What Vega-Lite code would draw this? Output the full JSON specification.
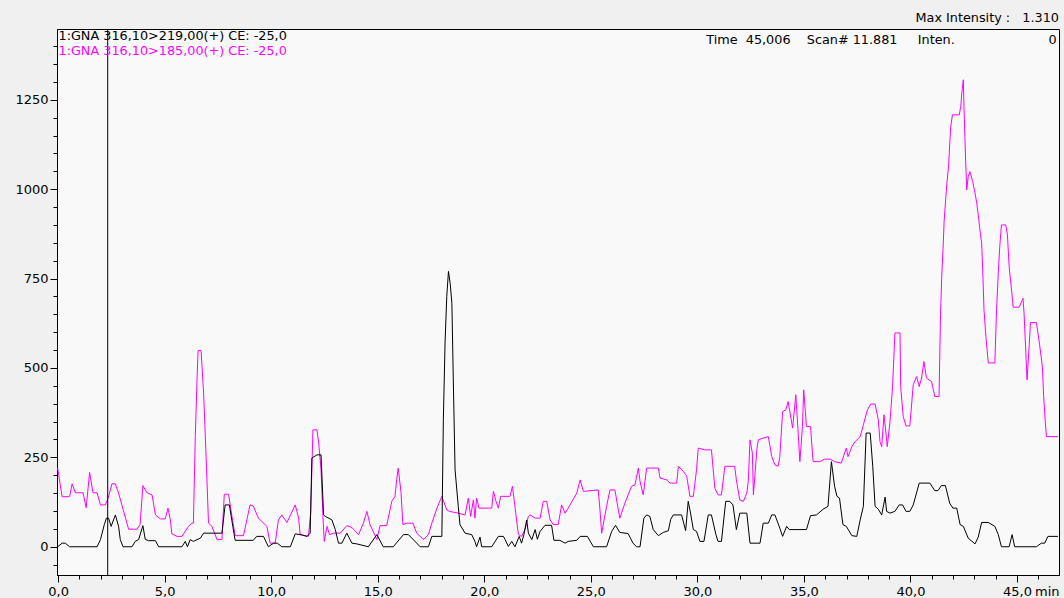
{
  "$schema": "https://vega.github.io/schema/vega-lite/v6.json",
  "width": 1002,
  "height": 546,
  "autosize": {"type": "none"},
  "padding": {"left": 57, "top": 29, "right": 5, "bottom": 23},
  "background": "#f0f0f0",
  "datasets": {
    "m185": [
      {"t": -0.02, "v": 220}, {"t": 0.19, "v": 140}, {"t": 0.54, "v": 140}, {"t": 0.66, "v": 176}, {"t": 0.81, "v": 151},
      {"t": 1.17, "v": 151}, {"t": 1.32, "v": 109}, {"t": 1.48, "v": 208}, {"t": 1.64, "v": 151}, {"t": 1.83, "v": 151},
      {"t": 1.99, "v": 117}, {"t": 2.22, "v": 117}, {"t": 2.35, "v": 136}, {"t": 2.53, "v": 176}, {"t": 2.69, "v": 176},
      {"t": 2.84, "v": 150}, {"t": 3.31, "v": 49}, {"t": 3.70, "v": 49}, {"t": 3.85, "v": 62}, {"t": 3.98, "v": 171},
      {"t": 4.17, "v": 151}, {"t": 4.41, "v": 145}, {"t": 4.57, "v": 89}, {"t": 4.80, "v": 78}, {"t": 5.03, "v": 78},
      {"t": 5.16, "v": 108}, {"t": 5.27, "v": 75}, {"t": 5.34, "v": 36}, {"t": 5.58, "v": 29}, {"t": 5.81, "v": 29},
      {"t": 6.12, "v": 57}, {"t": 6.28, "v": 66}, {"t": 6.35, "v": 66}, {"t": 6.44, "v": 308}, {"t": 6.52, "v": 467},
      {"t": 6.57, "v": 549}, {"t": 6.71, "v": 549}, {"t": 6.83, "v": 430}, {"t": 6.94, "v": 262}, {"t": 7.06, "v": 66},
      {"t": 7.22, "v": 57}, {"t": 7.46, "v": 20}, {"t": 7.69, "v": 20}, {"t": 7.80, "v": 147}, {"t": 8.00, "v": 147},
      {"t": 8.16, "v": 85}, {"t": 8.31, "v": 31}, {"t": 8.70, "v": 31}, {"t": 9.01, "v": 117}, {"t": 9.16, "v": 114},
      {"t": 9.40, "v": 80}, {"t": 9.80, "v": 57}, {"t": 9.95, "v": 10}, {"t": 10.19, "v": 10}, {"t": 10.34, "v": 75},
      {"t": 10.50, "v": 89}, {"t": 10.74, "v": 68}, {"t": 11.13, "v": 117}, {"t": 11.29, "v": 80}, {"t": 11.36, "v": 34},
      {"t": 11.75, "v": 29}, {"t": 11.86, "v": 99}, {"t": 11.96, "v": 327}, {"t": 12.15, "v": 327}, {"t": 12.23, "v": 290},
      {"t": 12.34, "v": 215}, {"t": 12.43, "v": 85}, {"t": 12.49, "v": 15}, {"t": 12.62, "v": 57}, {"t": 12.74, "v": 34},
      {"t": 12.93, "v": 38}, {"t": 13.24, "v": 38}, {"t": 13.55, "v": 59}, {"t": 13.79, "v": 54}, {"t": 14.10, "v": 34},
      {"t": 14.33, "v": 66}, {"t": 14.49, "v": 99}, {"t": 14.64, "v": 62}, {"t": 14.96, "v": 20}, {"t": 15.11, "v": 59},
      {"t": 15.42, "v": 59}, {"t": 15.66, "v": 127}, {"t": 15.81, "v": 141}, {"t": 15.89, "v": 187}, {"t": 15.96, "v": 220},
      {"t": 16.09, "v": 155}, {"t": 16.18, "v": 62}, {"t": 16.37, "v": 66}, {"t": 16.65, "v": 66}, {"t": 16.83, "v": 38},
      {"t": 17.15, "v": 20}, {"t": 17.38, "v": 34}, {"t": 17.54, "v": 66}, {"t": 17.78, "v": 108}, {"t": 18.01, "v": 141},
      {"t": 18.24, "v": 103}, {"t": 18.36, "v": 99}, {"t": 18.78, "v": 94}, {"t": 19.10, "v": 89}, {"t": 19.25, "v": 136},
      {"t": 19.36, "v": 85}, {"t": 19.49, "v": 131}, {"t": 19.56, "v": 80}, {"t": 19.64, "v": 136}, {"t": 19.75, "v": 108},
      {"t": 20.35, "v": 108}, {"t": 20.43, "v": 155}, {"t": 20.55, "v": 127}, {"t": 20.66, "v": 108}, {"t": 20.77, "v": 141},
      {"t": 21.21, "v": 141}, {"t": 21.32, "v": 169}, {"t": 21.44, "v": 113}, {"t": 21.60, "v": 34}, {"t": 21.75, "v": 29},
      {"t": 21.91, "v": 48}, {"t": 22.07, "v": 85}, {"t": 22.15, "v": 89}, {"t": 22.39, "v": 80}, {"t": 22.62, "v": 80},
      {"t": 22.77, "v": 127}, {"t": 22.93, "v": 127}, {"t": 23.09, "v": 75}, {"t": 23.24, "v": 62}, {"t": 23.47, "v": 62},
      {"t": 23.63, "v": 117}, {"t": 23.79, "v": 94}, {"t": 23.94, "v": 108}, {"t": 24.34, "v": 150}, {"t": 24.50, "v": 187},
      {"t": 24.65, "v": 155}, {"t": 25.35, "v": 159}, {"t": 25.43, "v": 103}, {"t": 25.51, "v": 38}, {"t": 25.74, "v": 113},
      {"t": 25.90, "v": 159}, {"t": 26.13, "v": 159}, {"t": 26.36, "v": 80}, {"t": 26.60, "v": 122}, {"t": 26.91, "v": 169},
      {"t": 27.07, "v": 173}, {"t": 27.23, "v": 220}, {"t": 27.31, "v": 183}, {"t": 27.46, "v": 145}, {"t": 27.62, "v": 220},
      {"t": 28.17, "v": 220}, {"t": 28.25, "v": 192}, {"t": 28.56, "v": 187}, {"t": 28.72, "v": 178}, {"t": 29.03, "v": 178},
      {"t": 29.11, "v": 225}, {"t": 29.34, "v": 211}, {"t": 29.50, "v": 197}, {"t": 29.65, "v": 141}, {"t": 29.81, "v": 141},
      {"t": 29.96, "v": 215}, {"t": 30.04, "v": 276}, {"t": 30.35, "v": 271}, {"t": 30.66, "v": 271}, {"t": 30.82, "v": 164},
      {"t": 30.97, "v": 145}, {"t": 31.13, "v": 145}, {"t": 31.29, "v": 225}, {"t": 31.75, "v": 225}, {"t": 31.83, "v": 187},
      {"t": 31.99, "v": 131}, {"t": 32.16, "v": 127}, {"t": 32.32, "v": 150}, {"t": 32.39, "v": 183}, {"t": 32.47, "v": 299},
      {"t": 32.58, "v": 262}, {"t": 32.63, "v": 145}, {"t": 32.79, "v": 271}, {"t": 32.86, "v": 299}, {"t": 33.09, "v": 304},
      {"t": 33.33, "v": 308}, {"t": 33.49, "v": 252}, {"t": 33.64, "v": 229}, {"t": 33.79, "v": 225}, {"t": 33.87, "v": 252},
      {"t": 34.00, "v": 378}, {"t": 34.15, "v": 383}, {"t": 34.26, "v": 406}, {"t": 34.47, "v": 332}, {"t": 34.62, "v": 425},
      {"t": 34.73, "v": 318}, {"t": 34.81, "v": 238}, {"t": 34.93, "v": 336}, {"t": 34.99, "v": 439}, {"t": 35.12, "v": 336},
      {"t": 35.31, "v": 336}, {"t": 35.43, "v": 238}, {"t": 35.74, "v": 238}, {"t": 35.97, "v": 245}, {"t": 36.24, "v": 245},
      {"t": 36.44, "v": 238}, {"t": 36.75, "v": 234}, {"t": 36.99, "v": 276}, {"t": 37.07, "v": 252}, {"t": 37.25, "v": 280},
      {"t": 37.40, "v": 294}, {"t": 37.64, "v": 308}, {"t": 37.79, "v": 341}, {"t": 37.98, "v": 383}, {"t": 38.14, "v": 399},
      {"t": 38.34, "v": 399}, {"t": 38.49, "v": 355}, {"t": 38.57, "v": 294}, {"t": 38.65, "v": 280}, {"t": 38.76, "v": 369},
      {"t": 38.85, "v": 318}, {"t": 38.91, "v": 280}, {"t": 39.04, "v": 350}, {"t": 39.16, "v": 448}, {"t": 39.27, "v": 598},
      {"t": 39.51, "v": 598}, {"t": 39.54, "v": 448}, {"t": 39.66, "v": 364}, {"t": 39.79, "v": 338}, {"t": 39.97, "v": 338},
      {"t": 40.13, "v": 453}, {"t": 40.29, "v": 476}, {"t": 40.41, "v": 448}, {"t": 40.52, "v": 472}, {"t": 40.63, "v": 518},
      {"t": 40.75, "v": 472}, {"t": 40.99, "v": 462}, {"t": 41.14, "v": 420}, {"t": 41.34, "v": 420}, {"t": 41.41, "v": 649},
      {"t": 41.47, "v": 760}, {"t": 41.53, "v": 835}, {"t": 41.58, "v": 910}, {"t": 41.65, "v": 970}, {"t": 41.71, "v": 1017},
      {"t": 41.79, "v": 1065}, {"t": 41.84, "v": 1124}, {"t": 41.89, "v": 1175}, {"t": 41.97, "v": 1208}, {"t": 42.29, "v": 1208},
      {"t": 42.36, "v": 1231}, {"t": 42.41, "v": 1269}, {"t": 42.48, "v": 1306}, {"t": 42.51, "v": 1231}, {"t": 42.59, "v": 1077},
      {"t": 42.64, "v": 998}, {"t": 42.71, "v": 1035}, {"t": 42.79, "v": 1049}, {"t": 42.92, "v": 1021}, {"t": 43.03, "v": 989},
      {"t": 43.11, "v": 961}, {"t": 43.18, "v": 928}, {"t": 43.26, "v": 886}, {"t": 43.34, "v": 849}, {"t": 43.39, "v": 774},
      {"t": 43.45, "v": 663}, {"t": 43.54, "v": 588}, {"t": 43.65, "v": 514}, {"t": 43.96, "v": 514}, {"t": 44.04, "v": 663},
      {"t": 44.12, "v": 765}, {"t": 44.19, "v": 840}, {"t": 44.27, "v": 900}, {"t": 44.47, "v": 900}, {"t": 44.55, "v": 872},
      {"t": 44.63, "v": 784}, {"t": 44.71, "v": 737}, {"t": 44.79, "v": 691}, {"t": 44.82, "v": 670}, {"t": 45.10, "v": 670},
      {"t": 45.28, "v": 695}, {"t": 45.33, "v": 653}, {"t": 45.47, "v": 467}, {"t": 45.56, "v": 551}, {"t": 45.63, "v": 627},
      {"t": 45.91, "v": 627}, {"t": 46.06, "v": 565}, {"t": 46.19, "v": 504}, {"t": 46.25, "v": 420}, {"t": 46.33, "v": 346},
      {"t": 46.38, "v": 308}, {"t": 46.92, "v": 308}
    ],
    "m219": [
      {"t": -0.02, "v": 0}, {"t": 0.19, "v": 10}, {"t": 0.34, "v": 10}, {"t": 0.54, "v": 0}, {"t": 1.83, "v": 0},
      {"t": 1.99, "v": 20}, {"t": 2.17, "v": 62}, {"t": 2.27, "v": 80}, {"t": 2.37, "v": 80}, {"t": 2.49, "v": 57},
      {"t": 2.69, "v": 89}, {"t": 2.84, "v": 57}, {"t": 2.92, "v": 20}, {"t": 3.05, "v": 0}, {"t": 3.47, "v": 0},
      {"t": 3.62, "v": 15}, {"t": 3.78, "v": 20}, {"t": 3.98, "v": 59}, {"t": 4.09, "v": 21}, {"t": 4.24, "v": 17},
      {"t": 4.57, "v": 17}, {"t": 4.72, "v": 0}, {"t": 5.81, "v": 0}, {"t": 5.97, "v": 15}, {"t": 6.07, "v": 0},
      {"t": 6.20, "v": 20}, {"t": 6.35, "v": 15}, {"t": 6.52, "v": 20}, {"t": 6.68, "v": 24}, {"t": 6.83, "v": 38},
      {"t": 7.69, "v": 38}, {"t": 7.84, "v": 117}, {"t": 8.04, "v": 117}, {"t": 8.20, "v": 57}, {"t": 8.31, "v": 18},
      {"t": 9.16, "v": 18}, {"t": 9.32, "v": 29}, {"t": 9.64, "v": 29}, {"t": 9.87, "v": 0}, {"t": 10.11, "v": 10},
      {"t": 10.29, "v": 10}, {"t": 10.50, "v": 0}, {"t": 10.90, "v": 0}, {"t": 11.13, "v": 36}, {"t": 11.44, "v": 33},
      {"t": 11.68, "v": 29}, {"t": 11.83, "v": 38}, {"t": 11.91, "v": 248}, {"t": 12.15, "v": 257}, {"t": 12.34, "v": 257},
      {"t": 12.46, "v": 89}, {"t": 12.54, "v": 85}, {"t": 12.85, "v": 75}, {"t": 13.01, "v": 48}, {"t": 13.16, "v": 10},
      {"t": 13.32, "v": 10}, {"t": 13.55, "v": 38}, {"t": 13.79, "v": 10}, {"t": 14.02, "v": 8}, {"t": 14.56, "v": 0},
      {"t": 14.96, "v": 34}, {"t": 15.26, "v": 0}, {"t": 15.73, "v": 0}, {"t": 16.21, "v": 34}, {"t": 16.44, "v": 34},
      {"t": 16.83, "v": 10}, {"t": 16.99, "v": 0}, {"t": 17.38, "v": 0}, {"t": 17.54, "v": 29}, {"t": 18.01, "v": 29},
      {"t": 18.08, "v": 355}, {"t": 18.16, "v": 570}, {"t": 18.24, "v": 700}, {"t": 18.32, "v": 770}, {"t": 18.40, "v": 737},
      {"t": 18.48, "v": 681}, {"t": 18.55, "v": 458}, {"t": 18.63, "v": 215}, {"t": 18.78, "v": 113}, {"t": 18.86, "v": 62},
      {"t": 19.10, "v": 38}, {"t": 19.41, "v": 34}, {"t": 19.56, "v": 15}, {"t": 19.64, "v": 0}, {"t": 19.80, "v": 27},
      {"t": 19.88, "v": 0}, {"t": 20.35, "v": 0}, {"t": 20.66, "v": 29}, {"t": 20.90, "v": 29}, {"t": 20.98, "v": 20},
      {"t": 21.13, "v": 1}, {"t": 21.29, "v": 15}, {"t": 21.44, "v": 0}, {"t": 21.64, "v": 29}, {"t": 21.75, "v": 10},
      {"t": 21.86, "v": 34}, {"t": 21.99, "v": 75}, {"t": 22.07, "v": 38}, {"t": 22.23, "v": 20}, {"t": 22.39, "v": 48},
      {"t": 22.49, "v": 21}, {"t": 22.62, "v": 43}, {"t": 22.85, "v": 60}, {"t": 23.16, "v": 60}, {"t": 23.27, "v": 18},
      {"t": 23.55, "v": 18}, {"t": 23.79, "v": 10}, {"t": 23.94, "v": 15}, {"t": 24.34, "v": 18}, {"t": 24.50, "v": 29},
      {"t": 24.84, "v": 29}, {"t": 25.12, "v": 0}, {"t": 25.74, "v": 0}, {"t": 25.98, "v": 43}, {"t": 26.16, "v": 60},
      {"t": 26.36, "v": 40}, {"t": 26.75, "v": 37}, {"t": 26.98, "v": 10}, {"t": 27.15, "v": 0}, {"t": 27.31, "v": 0},
      {"t": 27.49, "v": 80}, {"t": 27.62, "v": 89}, {"t": 27.77, "v": 85}, {"t": 27.93, "v": 48}, {"t": 28.17, "v": 31},
      {"t": 28.40, "v": 40}, {"t": 28.64, "v": 45}, {"t": 28.75, "v": 77}, {"t": 28.87, "v": 89}, {"t": 29.26, "v": 89},
      {"t": 29.45, "v": 45}, {"t": 29.57, "v": 127}, {"t": 29.68, "v": 94}, {"t": 29.81, "v": 48}, {"t": 29.96, "v": 43},
      {"t": 30.12, "v": 15}, {"t": 30.31, "v": 15}, {"t": 30.51, "v": 89}, {"t": 30.66, "v": 89}, {"t": 30.87, "v": 34},
      {"t": 30.97, "v": 15}, {"t": 31.13, "v": 15}, {"t": 31.33, "v": 127}, {"t": 31.52, "v": 127}, {"t": 31.67, "v": 117},
      {"t": 31.83, "v": 48}, {"t": 31.99, "v": 94}, {"t": 32.32, "v": 94}, {"t": 32.47, "v": 10}, {"t": 32.94, "v": 10},
      {"t": 33.09, "v": 66}, {"t": 33.33, "v": 66}, {"t": 33.49, "v": 89}, {"t": 33.64, "v": 89}, {"t": 33.87, "v": 52},
      {"t": 34.00, "v": 29}, {"t": 34.19, "v": 57}, {"t": 34.31, "v": 48}, {"t": 35.12, "v": 48}, {"t": 35.31, "v": 87},
      {"t": 35.59, "v": 89}, {"t": 35.90, "v": 105}, {"t": 36.13, "v": 113}, {"t": 36.29, "v": 238}, {"t": 36.44, "v": 169},
      {"t": 36.55, "v": 141}, {"t": 36.67, "v": 136}, {"t": 36.83, "v": 62}, {"t": 36.99, "v": 57}, {"t": 37.25, "v": 31},
      {"t": 37.48, "v": 29}, {"t": 37.64, "v": 75}, {"t": 37.79, "v": 113}, {"t": 37.92, "v": 318}, {"t": 38.11, "v": 318},
      {"t": 38.23, "v": 225}, {"t": 38.34, "v": 113}, {"t": 38.49, "v": 105}, {"t": 38.65, "v": 89}, {"t": 38.81, "v": 139},
      {"t": 38.88, "v": 99}, {"t": 39.04, "v": 94}, {"t": 39.27, "v": 99}, {"t": 39.47, "v": 117}, {"t": 39.63, "v": 117},
      {"t": 39.79, "v": 99}, {"t": 39.97, "v": 99}, {"t": 40.13, "v": 117}, {"t": 40.41, "v": 178}, {"t": 40.91, "v": 178},
      {"t": 41.14, "v": 157}, {"t": 41.29, "v": 157}, {"t": 41.45, "v": 171}, {"t": 41.64, "v": 171}, {"t": 41.84, "v": 122},
      {"t": 41.99, "v": 108}, {"t": 42.17, "v": 108}, {"t": 42.33, "v": 62}, {"t": 42.48, "v": 57}, {"t": 42.71, "v": 24},
      {"t": 43.03, "v": 8}, {"t": 43.18, "v": 27}, {"t": 43.34, "v": 68}, {"t": 43.65, "v": 68}, {"t": 43.96, "v": 57},
      {"t": 44.12, "v": 34}, {"t": 44.27, "v": 0}, {"t": 44.63, "v": 0}, {"t": 44.77, "v": 34}, {"t": 44.89, "v": 0},
      {"t": 45.91, "v": 0}, {"t": 46.14, "v": 10}, {"t": 46.30, "v": 10}, {"t": 46.45, "v": 29}, {"t": 46.92, "v": 29}
    ],
    "cursor": [{"t": 2.33}]
  },
  "layer": [
    {
      "data": {"name": "m185"},
      "mark": {"type": "line", "color": "#ff00ff", "strokeWidth": 1, "clip": true},
      "encoding": {
        "x": {
          "field": "t", "type": "quantitative",
          "scale": {"domain": [-0.05, 46.97], "nice": false, "zero": false},
          "axis": {
            "values": [0,1,2,3,4,5,6,7,8,9,10,11,12,13,14,15,16,17,18,19,20,21,22,23,24,25,26,27,28,29,30,31,32,33,34,35,36,37,38,39,40,41,42,43,44,45,46],
            "tickCount": 200,
            "labelExpr": "datum.value % 5 === 0 ? replace(format(datum.value, '.1f'), '.', ',') : ''",
            "tickSize": {"condition": {"test": "datum.value % 5 === 0", "value": 7}, "value": 4},
            "labelPadding": 3,
            "labelFlush": false,
            "labelOverlap": false,
            "labelSeparation": 0,
            "labelBound": false,
            "title": "min",
            "titleX": 1002,
            "titleY": 10,
            "titleAlign": "right",
            "titleBaseline": "top",
            "titleFont": "DejaVu Sans",
            "titleFontSize": 13,
            "titleFontWeight": "normal",
            "titleColor": "#000000"
          }
        },
        "y": {
          "field": "v", "type": "quantitative",
          "scale": {"domain": [-79, 1448], "nice": false, "zero": false},
          "axis": {
            "values": [-50,0,50,100,150,200,250,300,350,400,450,500,550,600,650,700,750,800,850,900,950,1000,1050,1100,1150,1200,1250,1300,1350,1400],
            "tickCount": 200,
            "labelExpr": "datum.value % 250 === 0 ? format(datum.value, 'd') : ''",
            "tickSize": {"condition": {"test": "datum.value % 250 === 0", "value": 7}, "value": 4},
            "labelPadding": 2,
            "labelOverlap": false,
            "labelSeparation": 0,
            "labelBound": false,
            "labelFlush": false,
            "title": null
          }
        }
      }
    },
    {
      "data": {"name": "m219"},
      "mark": {"type": "line", "color": "#000000", "strokeWidth": 1, "clip": true},
      "encoding": {
        "x": {"field": "t", "type": "quantitative"},
        "y": {"field": "v", "type": "quantitative"}
      }
    },
    {
      "data": {"name": "cursor"},
      "mark": {"type": "rule", "color": "#000000", "strokeWidth": 1},
      "encoding": {"x": {"field": "t", "type": "quantitative"}}
    },
    {
      "data": {"values": [{}]},
      "mark": {"type": "text", "align": "left", "baseline": "middle", "font": "DejaVu Sans", "fontSize": 12.8, "color": "#000000"},
      "encoding": {
        "x": {"datum": 0.02, "type": "quantitative"},
        "y": {"datum": 1428, "type": "quantitative"},
        "text": {"value": "1:GNA 316,10>219,00(+) CE: -25,0"}
      }
    },
    {
      "data": {"values": [{}]},
      "mark": {"type": "text", "align": "left", "baseline": "middle", "font": "DejaVu Sans", "fontSize": 12.8, "color": "#ff00ff"},
      "encoding": {
        "x": {"datum": 0.02, "type": "quantitative"},
        "y": {"datum": 1386, "type": "quantitative"},
        "text": {"value": "1:GNA 316,10>185,00(+) CE: -25,0"}
      }
    },
    {
      "data": {"values": [{}]},
      "mark": {"type": "text", "align": "right", "baseline": "middle", "font": "DejaVu Sans", "fontSize": 12.8, "color": "#000000"},
      "encoding": {
        "x": {"datum": 42.08, "type": "quantitative"},
        "y": {"datum": 1416, "type": "quantitative"},
        "text": {"value": "Time\u00a0\u00a045,006\u00a0\u00a0\u00a0\u00a0Scan#\u00a011.881\u00a0\u00a0\u00a0\u00a0\u00a0Inten."}
      }
    },
    {
      "data": {"values": [{}]},
      "mark": {"type": "text", "align": "right", "baseline": "middle", "font": "DejaVu Sans", "fontSize": 12.8, "color": "#000000"},
      "encoding": {
        "x": {"datum": 46.86, "type": "quantitative"},
        "y": {"datum": 1416, "type": "quantitative"},
        "text": {"value": "0"}
      }
    },
    {
      "data": {"values": [{}]},
      "mark": {"type": "text", "align": "right", "baseline": "middle", "font": "DejaVu Sans", "fontSize": 12.8, "color": "#000000"},
      "encoding": {
        "x": {"datum": 46.97, "type": "quantitative"},
        "y": {"datum": 1479, "type": "quantitative"},
        "text": {"value": "Max Intensity :\u00a0\u00a0\u00a01.310"}
      }
    }
  ],
  "config": {
    "view": {"fill": "#f9f9f9", "stroke": "#000000", "strokeWidth": 1},
    "axis": {
      "grid": false,
      "domainColor": "#000000",
      "tickColor": "#000000",
      "labelColor": "#000000",
      "labelFont": "DejaVu Sans",
      "labelFontSize": 13
    }
  }
}
